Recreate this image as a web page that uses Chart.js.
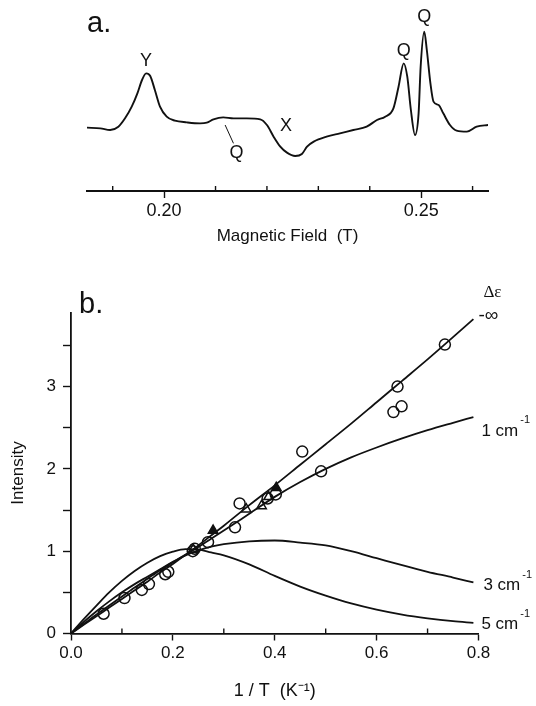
<!DOCTYPE html>
<html>
<head>
<meta charset="utf-8">
<script src="https://cdn.jsdelivr.net/npm/chart.js@4.4.1/dist/chart.umd.min.js"></script>
<style>
  html, body { margin: 0; padding: 0; background: #fff; }
  #wrap { position: relative; width: 536px; height: 706px; }
  canvas { position: absolute; left: 0; }
  #spectrum { top: 0; }
  #intensity { top: 250px; }
</style>
</head>
<body>
<div id="wrap">
  <canvas id="spectrum" width="536" height="250"></canvas>
  <canvas id="intensity" width="536" height="456"></canvas>
</div>
<script>
// ---- panel a: EPR trace ----
const field = [0.1850, 0.1876, 0.1895, 0.1911, 0.1924, 0.1937, 0.1948, 0.1957, 0.1965, 0.1973,
  0.1982, 0.1992, 0.2005, 0.2021, 0.2044, 0.2070, 0.2083, 0.2096, 0.2115, 0.2135,
  0.2161, 0.2187, 0.2200, 0.2213, 0.2226, 0.2239, 0.2255, 0.2268, 0.2278, 0.2291,
  0.2316, 0.2342, 0.2368, 0.2394, 0.2414, 0.2430, 0.2446, 0.2456, 0.2466, 0.2473,
  0.2480, 0.2488, 0.2495, 0.2499, 0.2506, 0.2511, 0.2518, 0.2524, 0.2534, 0.2543,
  0.2556, 0.2569, 0.2589, 0.2608, 0.2631];
const signal = [0.02, 0.00, -0.05, 0.05, 0.30, 0.65, 1.05, 1.45, 1.65, 1.57,
  1.15, 0.65, 0.35, 0.23, 0.18, 0.15, 0.17, 0.27, 0.33, 0.30,
  0.30, 0.27, 0.10, -0.25, -0.55, -0.73, -0.83, -0.77, -0.55, -0.40,
  -0.25, -0.15, -0.05, 0.05, 0.25, 0.35, 0.60, 1.25, 1.95, 1.55,
  0.55, -0.20, 0.45, 1.85, 2.90, 2.35, 1.35, 0.80, 0.70, 0.45,
  0.10, -0.07, -0.10, 0.05, 0.10];
const fieldTicks = [0.20, 0.25];
const fieldMinor = [0.19, 0.21, 0.22, 0.23, 0.24, 0.26];
// peak labels, anchored in data units
const peakLabels = [
  { text: 'Y', x: 0.1965, y: 1.65, dy: -12 },
  { text: 'Q', x: 0.2466, y: 1.95, dy: -12 },
  { text: 'Q', x: 0.2506, y: 2.90, dy: -15 },
  { text: 'X', x: 0.2237, y: 0.07, dy: 0 },
  { text: 'Q', x: 0.2141, y: -0.75, dy: 0 }
];
const leaderX = [0.21187, 0.21349];
const leaderY = [0.10, -0.45];

// ---- panel b: intensity vs 1/T ----
const invT = [0, 0.025, 0.05, 0.075, 0.1, 0.125, 0.15, 0.175, 0.2, 0.225, 0.25, 0.275, 0.3,
  0.35, 0.4, 0.45, 0.5, 0.55, 0.6, 0.65, 0.7, 0.75, 0.79];
const curveInf = [0, 0.105, 0.21, 0.315, 0.42, 0.525, 0.63, 0.74, 0.845, 0.955, 1.07, 1.19, 1.31,
  1.56, 1.80, 2.05, 2.30, 2.55, 2.81, 3.07, 3.33, 3.60, 3.82];
const curve1 = [0, 0.115, 0.23, 0.34, 0.45, 0.56, 0.665, 0.77, 0.865, 0.96, 1.05, 1.15, 1.25,
  1.455, 1.66, 1.84, 2.00, 2.14, 2.26, 2.37, 2.47, 2.56, 2.63];
const curve3 = [0, 0.14, 0.27, 0.39, 0.50, 0.60, 0.69, 0.78, 0.87, 0.95, 1.01, 1.055, 1.085,
  1.12, 1.13, 1.105, 1.07, 1.00, 0.915, 0.83, 0.75, 0.68, 0.62];
const curve5 = [0, 0.175, 0.34, 0.50, 0.64, 0.76, 0.86, 0.94, 0.995, 1.025, 1.02, 0.985, 0.95,
  0.84, 0.70, 0.57, 0.46, 0.365, 0.29, 0.23, 0.185, 0.15, 0.13];
const circX = [0.064, 0.105, 0.139, 0.153, 0.185, 0.191, 0.239, 0.243, 0.269, 0.322, 0.331,
  0.386, 0.402, 0.454, 0.491, 0.633, 0.649, 0.641, 0.734];
const circY = [0.24, 0.43, 0.53, 0.60, 0.72, 0.75, 1.00, 1.03, 1.11, 1.29, 1.58,
  1.64, 1.69, 2.21, 1.97, 2.69, 2.76, 3.00, 3.51];
const triOpenX = [0.24, 0.344, 0.374, 0.388];
const triOpenY = [1.02, 1.51, 1.55, 1.66];
const triFillX = [0.279, 0.403];
const triFillY = [1.25, 1.77];
const invTTicks = [0, 0.2, 0.4, 0.6, 0.8];
const invTMinor = [0.1, 0.3, 0.5, 0.7];
const intensityTicks = [0, 0.5, 1, 1.5, 2, 2.5, 3, 3.5];

const FONT = '"Liberation Sans", Arial, Helvetica, sans-serif';
const INK = '#111';
Chart.defaults.font.family = FONT;
Chart.defaults.color = INK;

const pts = (xs, ys) => xs.map((x, i) => ({ x: x, y: ys[i] }));

function minorTicks(axisId, values, len) {
  return {
    id: 'minor_' + axisId,
    afterDraw(chart) {
      const s = chart.scales[axisId];
      const ctx = chart.ctx;
      ctx.save();
      ctx.strokeStyle = INK;
      ctx.lineWidth = 1.4;
      values.forEach(v => {
        const x = s.getPixelForValue(v);
        ctx.beginPath();
        ctx.moveTo(x, s.top);
        ctx.lineTo(x, s.top - len);
        ctx.stroke();
      });
      ctx.restore();
    }
  };
}

function panelTag(text, dx, dy) {
  return {
    id: 'tag',
    afterDraw(chart) {
      const ctx = chart.ctx;
      ctx.save();
      ctx.fillStyle = INK;
      ctx.font = '29px ' + FONT;
      ctx.textBaseline = 'alphabetic';
      ctx.fillText(text, chart.chartArea.left + dx, chart.chartArea.top + dy);
      ctx.restore();
    }
  };
}

const peakText = {
  id: 'peakText',
  afterDatasetsDraw(chart) {
    const ctx = chart.ctx;
    const sx = chart.scales.x, sy = chart.scales.y;
    ctx.save();
    ctx.fillStyle = INK;
    ctx.font = '18px ' + FONT;
    ctx.textAlign = 'center';
    ctx.textBaseline = 'middle';
    peakLabels.forEach(p => {
      ctx.fillText(p.text, sx.getPixelForValue(p.x), sy.getPixelForValue(p.y) + p.dy);
    });
    ctx.restore();
  }
};

new Chart(document.getElementById('spectrum'), {
  type: 'scatter',
  data: {
    datasets: [
      { data: pts(field, signal), showLine: true, borderColor: INK, borderWidth: 1.9,
        pointRadius: 0, cubicInterpolationMode: 'monotone' },
      { data: pts(leaderX, leaderY), showLine: true, borderColor: INK, borderWidth: 1,
        pointRadius: 0 }
    ]
  },
  options: {
    responsive: false, animation: false, devicePixelRatio: 1,
    layout: { padding: { left: 87, right: 48, top: 5, bottom: 0 } },
    plugins: { legend: { display: false }, tooltip: { enabled: false } },
    scales: {
      x: {
        type: 'linear', min: 0.185, max: 0.263,
        afterBuildTicks: s => { s.ticks = fieldTicks.map(v => ({ value: v })); },
        afterFit: s => { s.height = 59; },
        grid: { drawOnChartArea: false, tickLength: 7, tickWidth: 1.4, tickColor: INK },
        border: { display: true, color: INK, width: 1.9 },
        ticks: { color: INK, padding: 2, font: { size: 18 }, callback: v => v.toFixed(2) },
        title: { display: true, text: 'Magnetic Field  (T)', color: INK, font: { size: 17 },
          padding: { top: 2, bottom: 3 } }
      },
      y: { display: false, min: -1.88, max: 3.70 }
    }
  },
  plugins: [peakText, minorTicks('x', fieldMinor, 5), panelTag('a.', 0, 27)]
});

// ---- panel b ----
const endLabels = {
  id: 'endLabels',
  afterDatasetsDraw(chart) {
    const ctx = chart.ctx;
    chart.data.datasets.forEach((ds, i) => {
      const L = ds.endLabel;
      if (!L) return;
      const meta = chart.getDatasetMeta(i);
      const pt = meta.data[meta.data.length - 1];
      const x = pt.x + L.dx, y = pt.y + L.dy;
      ctx.save();
      ctx.fillStyle = INK;
      ctx.textBaseline = 'middle';
      ctx.font = L.size + 'px ' + FONT;
      ctx.fillText(L.text, x, y);
      if (L.sup) {
        const w = ctx.measureText(L.text).width;
        ctx.font = '11px ' + FONT;
        ctx.fillText(L.sup, x + w + 2, y - 11);
      }
      if (L.head) {
        ctx.font = '17px "Liberation Serif", "DejaVu Serif", serif';
        ctx.fillText(L.head, x + 5, y - 24);
      }
      ctx.restore();
    });
  }
};

const curveStyle = { showLine: true, borderColor: INK, borderWidth: 1.8, pointRadius: 0,
  cubicInterpolationMode: 'monotone' };

new Chart(document.getElementById('intensity'), {
  type: 'scatter',
  data: {
    datasets: [
      { data: pts(circX, circY), pointStyle: 'circle', pointRadius: 5.5, borderWidth: 1.5,
        borderColor: INK, backgroundColor: 'rgba(0,0,0,0)' },
      { data: pts(triOpenX, triOpenY), pointStyle: 'triangle', pointRadius: 5.5, borderWidth: 1.5,
        borderColor: INK, backgroundColor: 'rgba(0,0,0,0)' },
      { data: pts(triFillX, triFillY), pointStyle: 'triangle', pointRadius: 5.5, borderWidth: 1.5,
        borderColor: INK, backgroundColor: INK },
      Object.assign({ data: pts(invT, curveInf),
        endLabel: { text: '-\u221e', dx: 5, dy: -3, size: 19, head: '\u0394\u03b5' } }, curveStyle),
      Object.assign({ data: pts(invT, curve1),
        endLabel: { text: '1 cm', sup: '-1', dx: 8, dy: 14, size: 17 } }, curveStyle),
      Object.assign({ data: pts(invT, curve3),
        endLabel: { text: '3 cm', sup: '-1', dx: 10, dy: 3, size: 17 } }, curveStyle),
      Object.assign({ data: pts(invT, curve5),
        endLabel: { text: '5 cm', sup: '-1', dx: 8, dy: 2, size: 17 } }, curveStyle)
    ]
  },
  options: {
    responsive: false, animation: false, devicePixelRatio: 1,
    layout: { padding: { left: 0, right: 57.5, top: 62.5, bottom: 0 } },
    plugins: { legend: { display: false }, tooltip: { enabled: false } },
    scales: {
      x: {
        type: 'linear', min: 0, max: 0.8,
        afterBuildTicks: s => { s.ticks = invTTicks.map(v => ({ value: v })); },
        afterFit: s => { s.height = 72.5; },
        grid: { drawOnChartArea: false, tickLength: 7, tickWidth: 1.4, tickColor: INK },
        border: { display: true, color: INK, width: 1.8 },
        ticks: { color: INK, padding: 3, font: { size: 17 }, callback: v => v.toFixed(1) },
        title: { display: true, text: '1 / T  (K\u207b\u00b9)', color: INK, font: { size: 18 },
          padding: { top: 2, bottom: 4 } }
      },
      y: {
        type: 'linear', min: 0, max: 3.9,
        afterBuildTicks: s => { s.ticks = intensityTicks.map(v => ({ value: v })); },
        afterFit: s => { s.width = 71; },
        grid: { drawOnChartArea: false, tickLength: 8, tickWidth: 1.4, tickColor: INK },
        border: { display: true, color: INK, width: 1.8 },
        ticks: { color: INK, padding: 7, font: { size: 17 },
          callback: v => Number.isInteger(v) ? String(v) : '' },
        title: { display: true, text: 'Intensity', color: INK, font: { size: 17 },
          padding: { top: 8, bottom: 4 } }
      }
    }
  },
  plugins: [endLabels, minorTicks('x', invTMinor, 5), panelTag('b.', 8, 0)]
});
</script>
</body>
</html>
